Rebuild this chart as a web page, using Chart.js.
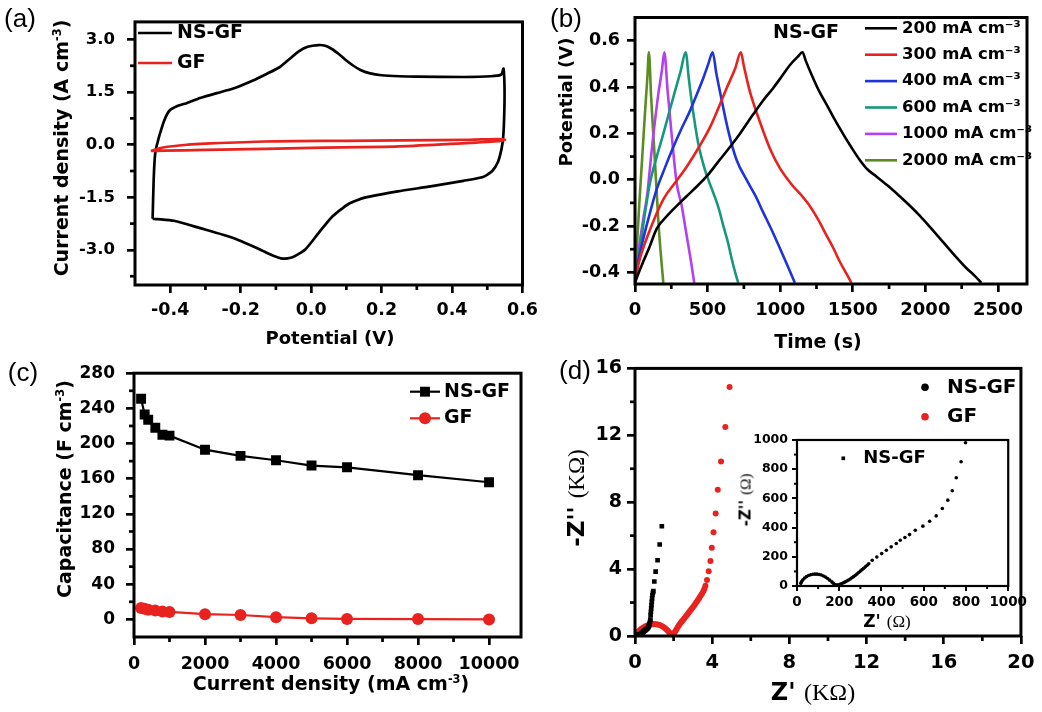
<!DOCTYPE html>
<html><head><meta charset="utf-8">
<script src="https://cdn.jsdelivr.net/npm/chart.js@4.4.1/dist/chart.umd.min.js"></script>
<style>
html,body{margin:0;padding:0;background:#fff;}
#wrap{position:relative;width:1042px;height:712px;overflow:hidden;background:#fff;}
canvas{position:absolute;}
.t{position:absolute;white-space:nowrap;font-family:'DejaVu Sans',sans-serif;font-weight:bold;color:#000;line-height:1;transform:translate(-50%,-50%);}
.r{transform:translate(-50%,-50%) rotate(-90deg);}
.p{font-family:'Liberation Sans',Arial,sans-serif;font-weight:normal;font-size:26px;}
sup{font-size:0.6em;vertical-align:baseline;position:relative;top:-0.65em;}
.serif{font-family:'Liberation Serif','Times New Roman',serif;font-weight:normal;}
</style></head><body><div id="wrap">
<canvas id="ca" width="545" height="352" style="left:0;top:0"></canvas>
<canvas id="cb" width="512" height="352" style="left:530px;top:0"></canvas>
<canvas id="cc" width="545" height="360" style="left:0;top:352px"></canvas>
<canvas id="cd" width="512" height="360" style="left:530px;top:352px"></canvas>
<canvas id="ci" width="300" height="220" style="left:730px;top:420px"></canvas>

<div class="t p" style="left:20px;top:18px">(a)</div>
<div class="t p" style="left:566px;top:18px">(b)</div>
<div class="t p" style="left:23px;top:372px">(c)</div>
<div class="t p" style="left:575px;top:370px">(d)</div>

<div class="t r" style="left:61px;top:148px;font-size:19px">Current density (A cm<sup>-3</sup>)</div>
<div class="t" style="left:330px;top:338px;font-size:18px">Potential (V)</div>
<div class="t r" style="left:566px;top:102px;font-size:18px">Potential (V)</div>
<div class="t" style="left:818px;top:341px;font-size:19px">Time (s)</div>
<div class="t" style="left:806px;top:31px;font-size:19px">NS-GF</div>
<div class="t r" style="left:64px;top:489px;font-size:19px">Capacitance (F cm<sup>-3</sup>)</div>
<div class="t" style="left:331px;top:683px;font-size:19px">Current density (mA cm<sup>-3</sup>)</div>
<div class="t r" style="left:576px;top:498px;font-size:23px">-Z'' <span class="serif">(KΩ)</span></div>
<div class="t" style="left:813px;top:692px;font-size:24px">Z' <span class="serif">(KΩ)</span></div>
<div class="t r" style="left:746px;top:500px;font-size:15px">-Z'' <span class="serif">(Ω)</span></div>
<div class="t" style="left:887px;top:621px;font-size:17px">Z' <span class="serif">(Ω)</span></div>
</div>
<script>
// ---------- Panel (a): cyclic voltammetry ----------
const cvNSGF_V = [-0.450,-0.447,-0.444,-0.441,-0.435,-0.429,-0.417,-0.403,-0.380,-0.352,-0.315,-0.268,-0.221,-0.165,-0.128,-0.091,-0.063,-0.035,-0.010,0.021,0.040,0.060,0.080,0.100,0.120,0.140,0.165,0.200,0.250,0.300,0.432,0.510,0.540,0.546,
  0.549,0.548,0.545,0.540,0.530,0.514,0.488,0.432,0.339,0.246,0.152,0.106,0.059,0.021,-0.016,-0.053,-0.081,-0.109,-0.147,-0.221,-0.315,-0.389,-0.436,-0.450];
const cvNSGF_J = [-2.11,-1.00,-0.40,-0.14,0.10,0.32,0.69,0.96,1.10,1.19,1.33,1.47,1.60,1.83,2.01,2.20,2.43,2.66,2.79,2.84,2.82,2.72,2.57,2.40,2.25,2.13,2.04,1.98,1.95,1.94,1.93,1.95,2.00,2.17,
  1.60,0.80,0.20,-0.14,-0.50,-0.75,-0.92,-1.03,-1.19,-1.33,-1.51,-1.69,-2.06,-2.52,-2.98,-3.21,-3.25,-3.16,-2.98,-2.66,-2.38,-2.17,-2.12,-2.11];
const cvGF_V = [-0.455,-0.42,-0.35,-0.30,-0.13,0.10,0.25,0.45,0.53,0.55,0.52,0.45,0.25,0.00,-0.13,-0.30,-0.42,-0.455];
const cvGF_J = [-0.18,-0.08,0.00,0.03,0.09,0.11,0.12,0.14,0.16,0.14,0.09,0.05,-0.05,-0.09,-0.12,-0.15,-0.17,-0.18];

// ---------- Panel (b): galvanostatic charge/discharge ----------
const gcdLabels = ['200 mA cm⁻³','300 mA cm⁻³','400 mA cm⁻³','600 mA cm⁻³','1000 mA cm⁻³','2000 mA cm⁻³'];
const gcd200_t = [0,20,57,100,149,230,310,400,493,570,654,730,814,880,951,1010,1066,1120,1154,1175,1227,1270,1319,1375,1433,1490,1548,1600,1663,1740,1823,1890,1961,2040,2121,2200,2282,2340,2385];
const gcd200_V = [-0.445,-0.41,-0.353,-0.29,-0.212,-0.15,-0.099,-0.045,0.014,0.075,0.141,0.205,0.282,0.34,0.395,0.445,0.494,0.53,0.55,0.515,0.438,0.38,0.325,0.26,0.198,0.14,0.085,0.045,0.014,-0.025,-0.071,-0.11,-0.155,-0.21,-0.268,-0.325,-0.381,-0.415,-0.445];
const gcd300_t = [0,15,34,80,195,280,356,440,516,575,631,690,729,750,791,860,929,998,1089,1150,1204,1260,1319,1370,1410,1460,1491];
const gcd300_V = [-0.445,-0.39,-0.34,-0.254,-0.085,-0.01,0.056,0.14,0.226,0.31,0.395,0.48,0.55,0.49,0.381,0.25,0.135,0.05,-0.028,-0.07,-0.113,-0.17,-0.24,-0.3,-0.353,-0.41,-0.445];
const gcd400_t = [0,20,57,100,149,205,264,320,378,430,470,505,535,560,585,642,700,768,830,883,940,998,1050,1101];
const gcd400_V = [-0.445,-0.36,-0.254,-0.15,-0.042,0.05,0.141,0.22,0.296,0.375,0.438,0.5,0.55,0.46,0.381,0.212,0.085,0.0,-0.07,-0.141,-0.215,-0.296,-0.37,-0.445];
const gcd600_t = [0,15,34,70,103,150,195,235,275,315,349,370,390,436,482,539,575,608,640,665,690,711];
const gcd600_V = [-0.445,-0.36,-0.296,-0.14,-0.014,0.1,0.198,0.29,0.381,0.47,0.55,0.44,0.339,0.155,0.042,-0.056,-0.12,-0.198,-0.27,-0.339,-0.4,-0.445];
const gcd1000_t = [0,20,57,85,115,160,185,202,225,252,287,322,345,367,390,408];
const gcd1000_V = [-0.445,-0.33,-0.169,-0.06,0.127,0.367,0.47,0.55,0.38,0.198,-0.014,-0.113,-0.2,-0.282,-0.37,-0.445];
const gcd2000_t = [0,12,30,50,70,85,96,110,126,140,160,175,195];
const gcd2000_V = [-0.445,-0.3,-0.1,0.1,0.3,0.44,0.55,0.37,0.198,0.05,-0.17,-0.3,-0.445];

// ---------- Panel (c): rate capability ----------
const rateCurrent = [200,300,400,600,800,1000,2000,3000,4000,5000,6000,8000,10000];
const capNSGF = [251,233,227,218,210,209,193,186,181,175,173,164,156];
const capGF = [13,12,11,10,9,8.5,6,5,2.5,1.2,0.6,0.4,0];

// ---------- Panel (d): Nyquist plots ----------
// NS-GF in ohm (inset uses ohm, main plot shows kilo-ohm)
const eisNSGF_re = [18,22,28,36,45,55,65,75,85,95,105,115,125,135,145,155,165,172,180,188,196,204,212,220,228,236,244,252,260,268,276,284,292,300,308,316,324,332,340,356,378,401,423,446,470,489,511,533,560,596,628,659,688,714,735,754,777,798,810,825,840,855,870,885,905,930,950,1000,1070,1170,1280,1390];
const eisNSGF_im = [18,30,42,54,64,72,77,80,81,81,79,75,69,61,51,40,28,18,10,6,8,12,17,22,28,34,41,48,56,64,73,82,92,102,112,122,132,142,152,176,199,222,245,268,291,313,332,352,382,410,444,480,531,588,652,741,851,981,1250,1450,1650,1850,2050,2250,2450,2600,2680,3260,3850,4530,5470,6560];
// GF in kilo-ohm
const eisGF_re = [0.02,0.08,0.15,0.22,0.30,0.38,0.46,0.55,0.64,0.73,0.82,0.91,1.00,1.09,1.18,1.27,1.36,1.45,1.54,1.62,1.70,1.77,1.84,1.91,1.98,2.04,2.10,2.16,2.22,2.28,2.35,2.42,2.49,2.56,2.63,2.70,2.77,2.84,2.91,2.98,3.05,3.12,3.19,3.26,3.33,3.40,3.47,3.54,3.60,3.65,3.73,3.82,3.91,3.98,4.07,4.18,4.29,4.46,4.68,4.90];
const eisGF_im = [0.05,0.15,0.24,0.32,0.40,0.47,0.53,0.59,0.63,0.67,0.69,0.71,0.72,0.71,0.69,0.66,0.61,0.55,0.48,0.40,0.31,0.22,0.14,0.10,0.12,0.20,0.30,0.42,0.54,0.65,0.76,0.86,0.96,1.06,1.16,1.27,1.38,1.48,1.58,1.69,1.80,1.92,2.03,2.15,2.27,2.40,2.53,2.68,2.83,3.00,3.35,3.87,4.48,5.27,6.20,7.33,8.75,10.43,12.49,14.89];

// ---------- Tick labels ----------
const ticksA_x = [-0.4,-0.2,0,0.2,0.4,0.6];
const ticksA_y = [-3,-1.5,0,1.5,3];
const ticksB_x = [0,500,1000,1500,2000,2500];
const ticksB_y = [-0.4,-0.2,0,0.2,0.4,0.6];
const ticksC_x = [0,2000,4000,6000,8000,10000];
const ticksC_y = [0,40,80,120,160,200,240,280];
const ticksD_x = [0,4,8,12,16,20];
const ticksD_y = [0,4,8,12,16];
const ticksI_x = [0,200,400,600,800,1000];
const ticksI_y = [0,200,400,600,800,1000];

// ---------- helpers ----------
const zip = (xs, ys, k) => xs.map((x, i) => ({x: x * (k || 1), y: ys[i] * (k || 1)}));
const FAM = "'DejaVu Sans', sans-serif";

function drawMarker(ctx, style, r, x, y, color) {
  ctx.save();
  ctx.fillStyle = color;
  ctx.beginPath();
  if (style === 'rect') { const s = Math.SQRT1_2 * r; ctx.rect(x - s, y - s, 2 * s, 2 * s); }
  else { ctx.arc(x, y, r, 0, Math.PI * 2); }
  ctx.fill();
  ctx.restore();
}

const framePlugin = {
  id: 'frame',
  afterDraw(chart, args, o) {
    if (!o || !o.width) return;
    const ctx = chart.ctx, a = chart.chartArea;
    ctx.save();
    ctx.strokeStyle = '#000';
    ctx.lineWidth = o.tickWidth || o.width;
    for (const id of Object.keys(o.minor || {})) {
      const m = o.minor[id], s = chart.scales[id];
      const k0 = Math.ceil(s.min / m.step - 1e-9);
      for (let k = k0; k * m.step <= s.max + 1e-9; k++) {
        const v = k * m.step;
        if (Math.abs(v - s.min) < 1e-9 || Math.abs(v - s.max) < 1e-9) continue;
        if (s.ticks.some(t => Math.abs(t.value - v) < 1e-9)) continue;
        const p = s.getPixelForValue(v);
        ctx.beginPath();
        if (s.isHorizontal()) { ctx.moveTo(p, a.bottom); ctx.lineTo(p, a.bottom + m.len); }
        else { ctx.moveTo(a.left, p); ctx.lineTo(a.left - m.len, p); }
        ctx.stroke();
      }
    }
    ctx.lineWidth = o.width;
    ctx.strokeRect(a.left, a.top, a.right - a.left, a.bottom - a.top);
    ctx.restore();
  }
};

const keyPlugin = {
  id: 'key',
  afterDraw(chart, args, o) {
    if (!o || !o.items) return;
    const ctx = chart.ctx;
    ctx.save();
    ctx.textBaseline = 'middle';
    ctx.font = 'bold ' + o.size + 'px ' + FAM;
    o.items.forEach((di, i) => {
      const ds = chart.data.datasets[di];
      const y = o.y + i * o.gap;
      if (o.line) {
        ctx.strokeStyle = ds.borderColor; ctx.lineWidth = ds.borderWidth;
        ctx.beginPath(); ctx.moveTo(o.x, y); ctx.lineTo(o.x + o.len, y); ctx.stroke();
      }
      if (o.marker) {
        drawMarker(ctx, o.markerStyle || ds.pointStyle, (o.markerR && o.markerR[i]) || ds.pointRadius, o.x + o.len / 2, y, ds.pointBackgroundColor);
      }
      ctx.fillStyle = '#000';
      ctx.fillText(ds.label, o.x + o.len + o.textGap, y);
    });
    ctx.restore();
  }
};
Chart.register(framePlugin, keyPlugin);

function axis(p) {
  const horiz = p.pos === 'bottom';
  return {
    type: 'linear', position: p.pos, min: p.min, max: p.max,
    afterBuildTicks: s => { s.ticks = p.ticks.map(v => ({value: v})); },
    afterFit: s => { if (horiz) s.height = p.fit; else s.width = p.fit; },
    ticks: {autoSkip: false, maxRotation: 0, minRotation: 0, padding: p.pad, color: '#000',
      font: {family: FAM, weight: 'bold', size: p.size},
      callback: v => p.dec == null ? String(v) : Number(v).toFixed(p.dec)},
    grid: {display: true, drawOnChartArea: false, drawTicks: true, tickLength: p.tl, tickWidth: p.tw,
      tickColor: '#000', color: '#000', lineWidth: p.tw},
    border: {display: false}
  };
}

function makeChart(id, datasets, o) {
  return new Chart(document.getElementById(id), {
    type: 'scatter',
    data: {datasets},
    options: {
      responsive: false, animation: false, events: [],
      layout: {padding: o.padding},
      plugins: {legend: {display: false}, tooltip: {enabled: false}, frame: o.frame, key: o.key},
      scales: {x: o.x, y: o.y}
    }
  });
}

const RED = '#e8231f';
const FW = 3, TW = 2.7;

// ---------- (a) ----------
makeChart('ca', [
  {label: 'NS-GF', data: zip(cvNSGF_V, cvNSGF_J), showLine: true, borderColor: '#000', borderWidth: 2.7, pointRadius: 0, tension: 0.2, order: 1},
  {label: 'GF', data: zip(cvGF_V, cvGF_J), showLine: true, borderColor: RED, borderWidth: 2.7, pointRadius: 0, tension: 0.3, order: 0}
], {
  padding: {left: 0, top: 12, right: 22, bottom: 0},
  x: axis({pos: 'bottom', min: -0.5, max: 0.6, ticks: ticksA_x, dec: 1, fit: 67, pad: 7, size: 17.5, tl: 8, tw: TW}),
  y: axis({pos: 'left', min: -4, max: 3.5, ticks: ticksA_y, dec: 1, fit: 135, pad: 12, size: 16.5, tl: 8, tw: TW}),
  frame: {width: FW, tickWidth: TW, minor: {x: {step: 0.1, len: 5}, y: {step: 0.75, len: 5}}},
  key: {items: [0, 1], x: 138, y: 33, gap: 30, len: 34, textGap: 5, size: 19, line: true}
});

// ---------- (b) ----------
const gcdColors = ['#000000', RED, '#1f34d8', '#17987c', '#b440f2', '#5b8c21'];
const gcdT = [gcd200_t, gcd300_t, gcd400_t, gcd600_t, gcd1000_t, gcd2000_t];
const gcdV = [gcd200_V, gcd300_V, gcd400_V, gcd600_V, gcd1000_V, gcd2000_V];
makeChart('cb', gcdLabels.map((lab, i) => ({
  label: lab, data: zip(gcdT[i], gcdV[i]), showLine: true, borderColor: gcdColors[i], borderWidth: 2.6,
  pointRadius: 0, cubicInterpolationMode: 'monotone'
})), {
  padding: {left: 0, top: 12, right: 15, bottom: 0},
  x: axis({pos: 'bottom', min: 0, max: 2700, ticks: ticksB_x, fit: 68, pad: 8, size: 18, tl: 8, tw: TW}),
  y: axis({pos: 'left', min: -0.45, max: 0.7, ticks: ticksB_y, dec: 1, fit: 105, pad: 7, size: 17.5, tl: 8, tw: TW}),
  frame: {width: FW, tickWidth: TW, minor: {x: {step: 250, len: 5}, y: {step: 0.1, len: 5}}},
  key: {items: [0, 1, 2, 3, 4, 5], x: 335, y: 28.3, gap: 26.4, len: 32, textGap: 5, size: 16.5, line: true}
});

// ---------- (c) ----------
makeChart('cc', [
  {label: 'NS-GF', data: zip(rateCurrent, capNSGF), showLine: true, borderColor: '#000', borderWidth: 2.2,
   pointStyle: 'rect', pointRadius: 7, pointBackgroundColor: '#000', pointBorderWidth: 0, tension: 0},
  {label: 'GF', data: zip(rateCurrent, capGF), showLine: true, borderColor: RED, borderWidth: 2.2,
   pointStyle: 'circle', pointRadius: 6, pointBackgroundColor: RED, pointBorderWidth: 0, tension: 0}
], {
  padding: {left: 0, top: 11, right: 24, bottom: 0},
  x: axis({pos: 'bottom', min: 0, max: 10900, ticks: ticksC_x, fit: 75, pad: 8.5, size: 17.5, tl: 8, tw: TW}),
  y: axis({pos: 'left', min: -20, max: 280, ticks: ticksC_y, fit: 134, pad: 11, size: 17, tl: 8, tw: TW}),
  frame: {width: FW, tickWidth: TW, minor: {x: {step: 1000, len: 5}, y: {step: 20, len: 5}}},
  key: {items: [0, 1], x: 410, y: 39.7, gap: 26.6, len: 30, textGap: 4, size: 19, line: true, marker: true}
});

// ---------- (d) ----------
makeChart('cd', [
  {label: 'NS-GF', data: zip(eisNSGF_re, eisNSGF_im, 0.001), showLine: false,
   pointStyle: 'rect', pointRadius: 3.3, pointBackgroundColor: '#000', pointBorderWidth: 0, borderColor: '#000'},
  {label: 'GF', data: zip(eisGF_re, eisGF_im), showLine: false,
   pointStyle: 'circle', pointRadius: 3, pointBackgroundColor: RED, pointBorderWidth: 0, borderColor: RED}
], {
  padding: {left: 0, top: 11, right: 15, bottom: 0},
  x: axis({pos: 'bottom', min: 0, max: 20, ticks: ticksD_x, fit: 76, pad: 7.5, size: 19.5, tl: 8, tw: TW}),
  y: axis({pos: 'left', min: 0, max: 16, ticks: ticksD_y, fit: 105, pad: 5, size: 19, tl: 8, tw: TW}),
  frame: {width: FW, tickWidth: TW, minor: {x: {step: 2, len: 5}, y: {step: 2, len: 5}}},
  key: {items: [0, 1], x: 395, y: 35.3, gap: 29.4, len: 0, textGap: 22, size: 20, marker: true, markerStyle: 'circle', markerR: [3.8, 3.8]}
});

// ---------- inset ----------
makeChart('ci', [
  {label: 'NS-GF', data: zip(eisNSGF_re, eisNSGF_im), showLine: false, clip: 3,
   pointStyle: 'circle', pointRadius: 1.8, pointBackgroundColor: '#000', pointBorderWidth: 0, borderColor: '#000'}
], {
  padding: {left: 0, top: 20, right: 21, bottom: 0},
  x: axis({pos: 'bottom', min: 0, max: 1000, ticks: ticksI_x, fit: 54, pad: 3, size: 13.5, tl: 5, tw: 2}),
  y: axis({pos: 'left', min: 0, max: 1000, ticks: ticksI_y, fit: 67, pad: 4, size: 12.5, tl: 5, tw: 2}),
  frame: {width: 2.2, tickWidth: 2, minor: {x: {step: 100, len: 3}, y: {step: 100, len: 3}}},
  key: {items: [0], x: 113.3, y: 38.3, gap: 0, len: 0, textGap: 20, size: 18, marker: true, markerStyle: 'rect', markerR: [2.6]}
});
</script>
</body></html>
